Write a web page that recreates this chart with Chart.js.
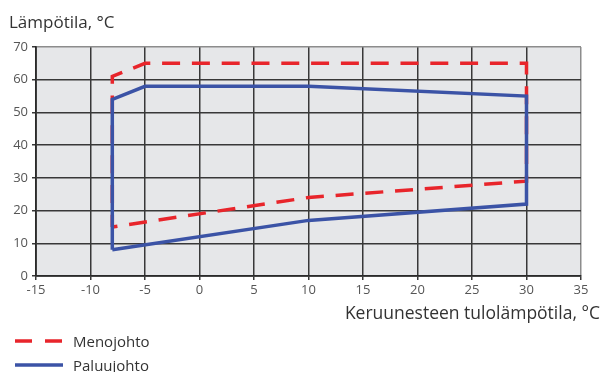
<!DOCTYPE html>
<html>
<head>
<meta charset="utf-8">
<script src="https://cdn.jsdelivr.net/npm/chart.js@4/dist/chart.umd.min.js"></script>
<style>
  html, body { margin: 0; padding: 0; background: #fff; }
  #wrap { position: relative; width: 602px; height: 372px; font-family: "Open Sans", "Noto Sans", sans-serif; color: #333; }
  canvas { position: absolute; left: 0; top: 0; }
  .t { position: absolute; white-space: nowrap; line-height: 1; }
  #ytitle { left: 9px; top: 13px; font-size: 17px; }
  #xtitle { right: 2px; top: 304px; font-size: 17.5px; }
  .leg { position: absolute; left: 14px; display: flex; align-items: center; font-size: 15px; }
  .leg svg { margin-right: 10px; }
</style>
</head>
<body>
<div id="wrap">
  <canvas id="c" width="602" height="372"></canvas>
  <div class="t" id="ytitle">Lämpötila, °C</div>
  <div class="t" id="xtitle">Keruunesteen tulolämpötila, °C</div>
  <div class="leg" style="top:331px">
    <svg width="49" height="8"><line x1="1" y1="4" x2="49" y2="4" stroke="#e8252b" stroke-width="3.5" stroke-dasharray="17 13"/></svg>
    <span>Menojohto</span>
  </div>
  <div class="leg" style="top:355px">
    <svg width="49" height="8"><line x1="1" y1="4" x2="49" y2="4" stroke="#3b53a6" stroke-width="3.5"/></svg>
    <span>Paluujohto</span>
  </div>
</div>
<script>
// Axis ticks
const xTicks = [-15, -10, -5, 0, 5, 10, 15, 20, 25, 30, 35];
const yTicks = [0, 10, 20, 30, 40, 50, 60, 70];

// Operating envelope, supply line (Menojohto)
const menoX = [-8, -8, -5, 30, 30, 10, -8];
const menoY = [15, 61, 65, 65, 29, 24, 15];

// Operating envelope, return line (Paluujohto)
const paluuX = [-8, -8, -5, 10, 30, 30, 10, -8];
const paluuY = [8, 54, 58, 58, 55, 22, 17, 8];

const toPoints = (xs, ys) => xs.map((x, i) => ({ x: x, y: ys[i] }));

// Light grey plot face behind the grid
const plotBg = {
  id: 'plotBg',
  beforeDraw(chart) {
    const a = chart.chartArea, ctx = chart.ctx;
    ctx.save();
    ctx.fillStyle = '#e6e7e9';
    ctx.fillRect(a.left, a.top, a.right - a.left, a.bottom - a.top);
    ctx.restore();
  }
};

// Outer top/right frame lines are lighter than the inner grid
const gridColor = (edgeValue) => (c) => (c.tick && c.tick.value === edgeValue) ? '#8c8c8c' : '#383838';

new Chart(document.getElementById('c'), {
  type: 'scatter',
  data: {
    datasets: [
      {
        label: 'Paluujohto',
        data: toPoints(paluuX, paluuY),
        showLine: true,
        borderColor: '#3b53a6',
        borderWidth: 3.5,
        borderJoinStyle: 'miter',
        pointRadius: 0,
        tension: 0,
        fill: false,
        order: 1
      },
      {
        label: 'Menojohto',
        data: toPoints(menoX, menoY),
        showLine: true,
        borderColor: '#e8252b',
        borderWidth: 3.5,
        borderDash: [18, 11.8],
        borderDashOffset: 5.8,
        borderJoinStyle: 'miter',
        pointRadius: 0,
        tension: 0,
        fill: false,
        order: 2
      }
    ]
  },
  options: {
    responsive: false,
    devicePixelRatio: 1,
    animation: false,
    layout: { padding: { left: 0, top: 47, right: 21, bottom: 0 } },
    plugins: { legend: { display: false }, tooltip: { enabled: false } },
    scales: {
      x: {
        type: 'linear',
        min: xTicks[0],
        max: xTicks[xTicks.length - 1],
        afterBuildTicks: (s) => { s.ticks = xTicks.map(v => ({ value: v })); },
        afterFit: (s) => { s.height = 96; },
        grid: { color: gridColor(35), lineWidth: 1.5, tickLength: 4, tickColor: '#383838' },
        border: { color: '#2a2a2a', width: 1.8 },
        ticks: {
          padding: 2,
          color: '#555',
          font: { family: '"Open Sans", "Noto Sans", sans-serif', size: 13 },
          callback: (v) => String(v)
        }
      },
      y: {
        type: 'linear',
        min: yTicks[0],
        max: yTicks[yTicks.length - 1],
        afterBuildTicks: (s) => { s.ticks = yTicks.map(v => ({ value: v })); },
        afterFit: (s) => { s.width = 36; },
        grid: { color: gridColor(70), lineWidth: 1.5, tickLength: 4, tickColor: '#383838' },
        border: { color: '#2a2a2a', width: 1.8 },
        ticks: {
          padding: 4,
          color: '#555',
          font: { family: '"Open Sans", "Noto Sans", sans-serif', size: 13 },
          callback: (v) => String(v)
        }
      }
    }
  },
  plugins: [plotBg]
});
</script>
</body>
</html>
